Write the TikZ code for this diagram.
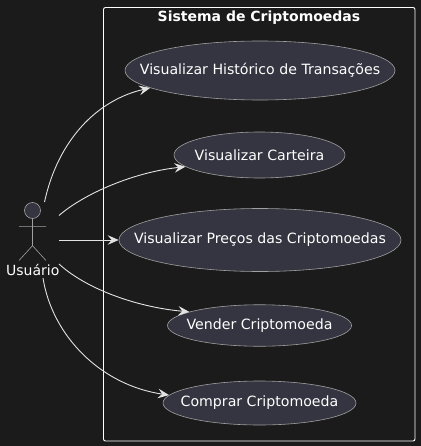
\documentclass[tikz,border=0pt]{standalone}
\usepackage{fontspec}
\setmainfont{DejaVu Sans}
\usetikzlibrary{arrows.meta,shapes.geometric}
\definecolor{bgc}{HTML}{1B1B1B}
\definecolor{fillc}{HTML}{343540}
\definecolor{edgec}{HTML}{A0A0A0}
\definecolor{linec}{HTML}{E2E2E2}
\newcommand{\uctext}[1]{\makebox[0pt][c]{#1}}
\tikzset{
  usecase/.style={ellipse,draw=edgec,fill=fillc,line width=0.6pt,inner sep=0pt,text=white,font=\fontsize{14.15}{16}\selectfont},
  conn/.style={draw=linec,line width=0.9pt,-{Stealth[length=11pt,width=9.5pt,inset=4pt,fill=linec]}},
  actorline/.style={draw=edgec,line width=0.6pt},
}
\begin{document}
\begin{tikzpicture}[x=1pt,y=-1pt]
\useasboundingbox (0,0) rectangle (420,446);
\fill[bgc] (-3,-3) rectangle (423,449);
\node[draw=white,line width=0.9pt,rounded corners=2pt,minimum width=311.5pt,minimum height=433.5pt,inner sep=0pt] (frame) at (259.25,224.25) {};
\node[text=white,font=\bfseries\fontsize{14}{16}\selectfont,inner sep=0pt,anchor=base] (title) at (259,22) {Sistema de Criptomoedas};
\node[usecase,minimum width=270pt,minimum height=59pt] (hist) at (260,70.5) {\uctext{Visualizar Histórico de Transações}};
\node[usecase,minimum width=171pt,minimum height=46pt] (cart) at (259.5,155) {\uctext{Visualizar Carteira}};
\node[usecase,minimum width=282pt,minimum height=63pt] (prec) at (260,240) {\uctext{Visualizar Preços das Criptomoedas}};
\node[usecase,minimum width=184pt,minimum height=41.5pt] (vend) at (259.5,325.5) {\uctext{Vender Criptomoeda}};
\node[usecase,minimum width=193pt,minimum height=44pt] (comp) at (259.5,403) {\uctext{Comprar Criptomoeda}};
\node[circle,draw=edgec,fill=fillc,line width=0.6pt,minimum size=16pt,inner sep=0pt] (head) at (32.5,210.5) {};
\coordinate (arml) at (19,226.3);
\coordinate (armr) at (46,226.3);
\coordinate (hip) at (32.5,245.7);
\coordinate (footl) at (19,260.5);
\coordinate (footr) at (46,260.5);
\draw[actorline] (head.south) -- (hip) (arml) -- (armr) (footl) -- (hip) -- (footr);
\node[text=white,font=\fontsize{14}{16}\selectfont,inner sep=0pt,anchor=base] (actor) at (32.8,275) {Usuário};
\coordinate (s1) at (44.5,202);
\coordinate (s2) at (59,215.5);
\coordinate (s3) at (59,240);
\coordinate (s4) at (59,264);
\coordinate (s5) at (43,278);
\draw[conn] (s1) .. controls (58,140) and (97,100) .. (hist.189);
\draw[conn] (s2) .. controls (85,193) and (135,172) .. (cart.189);
\draw[conn] (s3) -- (prec.west);
\draw[conn] (s4) .. controls (85,288) and (135,307) .. (vend.169);
\draw[conn] (s5) .. controls (52,335) and (100,385) .. (comp.175);
\end{tikzpicture}
\end{document}
